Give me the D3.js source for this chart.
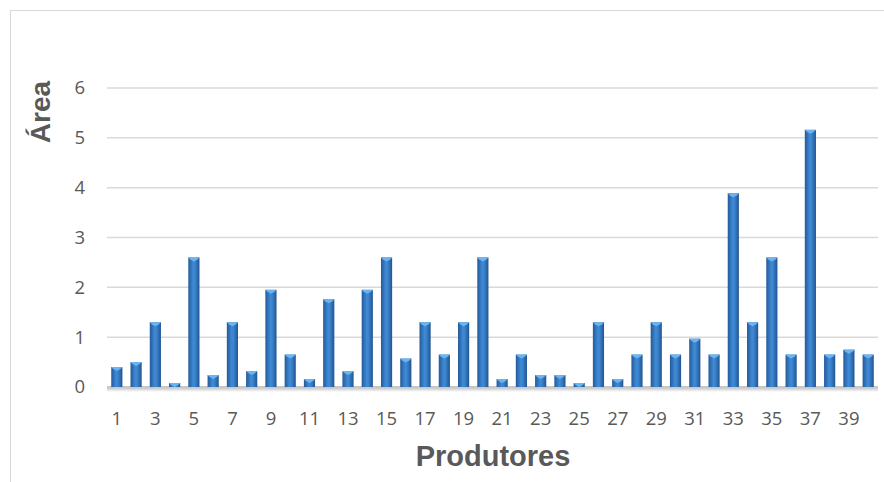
<!DOCTYPE html>
<html>
<head>
<meta charset="utf-8">
<script src="https://cdn.jsdelivr.net/npm/d3@7"></script>
<style>
  body { margin: 0; background: #fff; }
  text { fill: #595959; }
</style>
</head>
<body>
<script>
// produtores 1..40 and area values
var produtores = d3.range(1, 41);
var area = [0.40, 0.50, 1.30, 0.08, 2.60, 0.24, 1.30, 0.32, 1.95, 0.65,
            0.16, 1.76, 0.32, 1.95, 2.60, 0.57, 1.30, 0.65, 1.30, 2.60,
            0.16, 0.65, 0.24, 0.24, 0.08, 1.30, 0.16, 0.65, 1.30, 0.65,
            0.97, 0.65, 3.89, 1.30, 2.60, 0.65, 5.16, 0.65, 0.75, 0.65];
var yTicks = [0, 1, 2, 3, 4, 5, 6];

var W = 884, H = 482;
var margin = {left: 107, right: 6, top: 88, bottom: 94};

var svg = d3.select("body").append("svg")
    .attr("width", W)
    .attr("height", H);

// chart border (cropped on right / bottom)
svg.append("rect")
    .attr("x", 10.5).attr("y", 10.5)
    .attr("width", W + 20).attr("height", H + 20)
    .attr("fill", "none")
    .attr("stroke", "#d9d9d9");

var x = d3.scaleBand()
    .domain(produtores)
    .range([margin.left, W - margin.right])
    .paddingInner(0.42)
    .paddingOuter(0.22);

var y = d3.scaleLinear()
    .domain([0, 6])
    .range([H - margin.bottom - 1, margin.top]);

var defs = svg.append("defs");
var grad = defs.append("linearGradient").attr("id", "barGrad")
    .attr("x1", "0%").attr("x2", "100%").attr("y1", "0%").attr("y2", "0%");
grad.append("stop").attr("offset", "0%").attr("stop-color", "#245a98");
grad.append("stop").attr("offset", "45%").attr("stop-color", "#3f8ad6");
grad.append("stop").attr("offset", "60%").attr("stop-color", "#3b84cf");
grad.append("stop").attr("offset", "100%").attr("stop-color", "#215590");

var shadow = defs.append("linearGradient").attr("id", "shadowGrad")
    .attr("x1", "0%").attr("x2", "0%").attr("y1", "0%").attr("y2", "100%");
shadow.append("stop").attr("offset", "0%").attr("stop-color", "#c8c8c8");
shadow.append("stop").attr("offset", "100%").attr("stop-color", "#ffffff");

// gridlines
svg.append("g")
    .selectAll("line")
    .data(yTicks)
    .enter()
    .append("line")
    .attr("x1", margin.left)
    .attr("x2", W - margin.right)
    .attr("y1", function(d){ return y(d); })
    .attr("y2", function(d){ return y(d); })
    .attr("stroke", function(d){ return d === 0 ? "#c8c8c8" : "#d9d9d9"; })
    .attr("stroke-width", function(d){ return d === 0 ? 2 : 1.5; });

// baseline shadow
svg.append("rect")
    .attr("x", margin.left)
    .attr("y", y(0) + 1)
    .attr("width", W - margin.right - margin.left)
    .attr("height", 4)
    .attr("fill", "url(#shadowGrad)");

var bars = svg.append("g")
    .selectAll("g.bar")
    .data(produtores)
    .enter()
    .append("g")
    .attr("class", "bar");

bars.append("rect")
    .attr("x", function(d){ return x(d); })
    .attr("y", function(d, i){ return y(area[i]); })
    .attr("width", x.bandwidth())
    .attr("height", function(d, i){ return y(0) - y(area[i]); })
    .attr("fill", "url(#barGrad)");

// light bevel cap on top of each bar
bars.append("path")
    .attr("d", function(d, i){
      var x0 = x(d), w = x.bandwidth(), t = y(area[i]);
      var h = Math.min(4, y(0) - t);
      return "M" + x0 + "," + t + "L" + (x0 + w) + "," + t +
             "L" + (x0 + w - 2) + "," + (t + h * 0.5) +
             "L" + (x0 + w / 2) + "," + (t + h) +
             "L" + (x0 + 2) + "," + (t + h * 0.5) + "Z";
    })
    .attr("fill", "#6cb4f0");

// y axis labels
svg.append("g")
    .selectAll("text")
    .data(yTicks)
    .enter()
    .append("text")
    .attr("x", 85)
    .attr("y", function(d){ return y(d); })
    .attr("dy", "0.35em")
    .attr("text-anchor", "end")
    .style("font-family", "'Open Sans', sans-serif")
    .style("font-size", "18.5px")
    .text(function(d){ return d; });

// x axis labels (odd producers only)
svg.append("g")
    .selectAll("text")
    .data(produtores.filter(function(d){ return d % 2 === 1; }))
    .enter()
    .append("text")
    .attr("x", function(d){ return x(d) + x.bandwidth() / 2; })
    .attr("y", 425)
    .attr("text-anchor", "middle")
    .style("font-family", "'Open Sans', sans-serif")
    .style("font-size", "18.5px")
    .text(function(d){ return d; });

svg.append("text")
    .attr("x", 493)
    .attr("y", 466)
    .attr("text-anchor", "middle")
    .style("font-family", "'Liberation Sans', Arial, sans-serif")
    .style("font-size", "29px")
    .style("font-weight", "bold")
    .text("Produtores");

svg.append("text")
    .attr("transform", "translate(50,112) rotate(-90)")
    .attr("text-anchor", "middle")
    .style("font-family", "'Liberation Sans', Arial, sans-serif")
    .style("font-size", "28px")
    .style("font-weight", "bold")
    .text("Área");
</script>
</body>
</html>
